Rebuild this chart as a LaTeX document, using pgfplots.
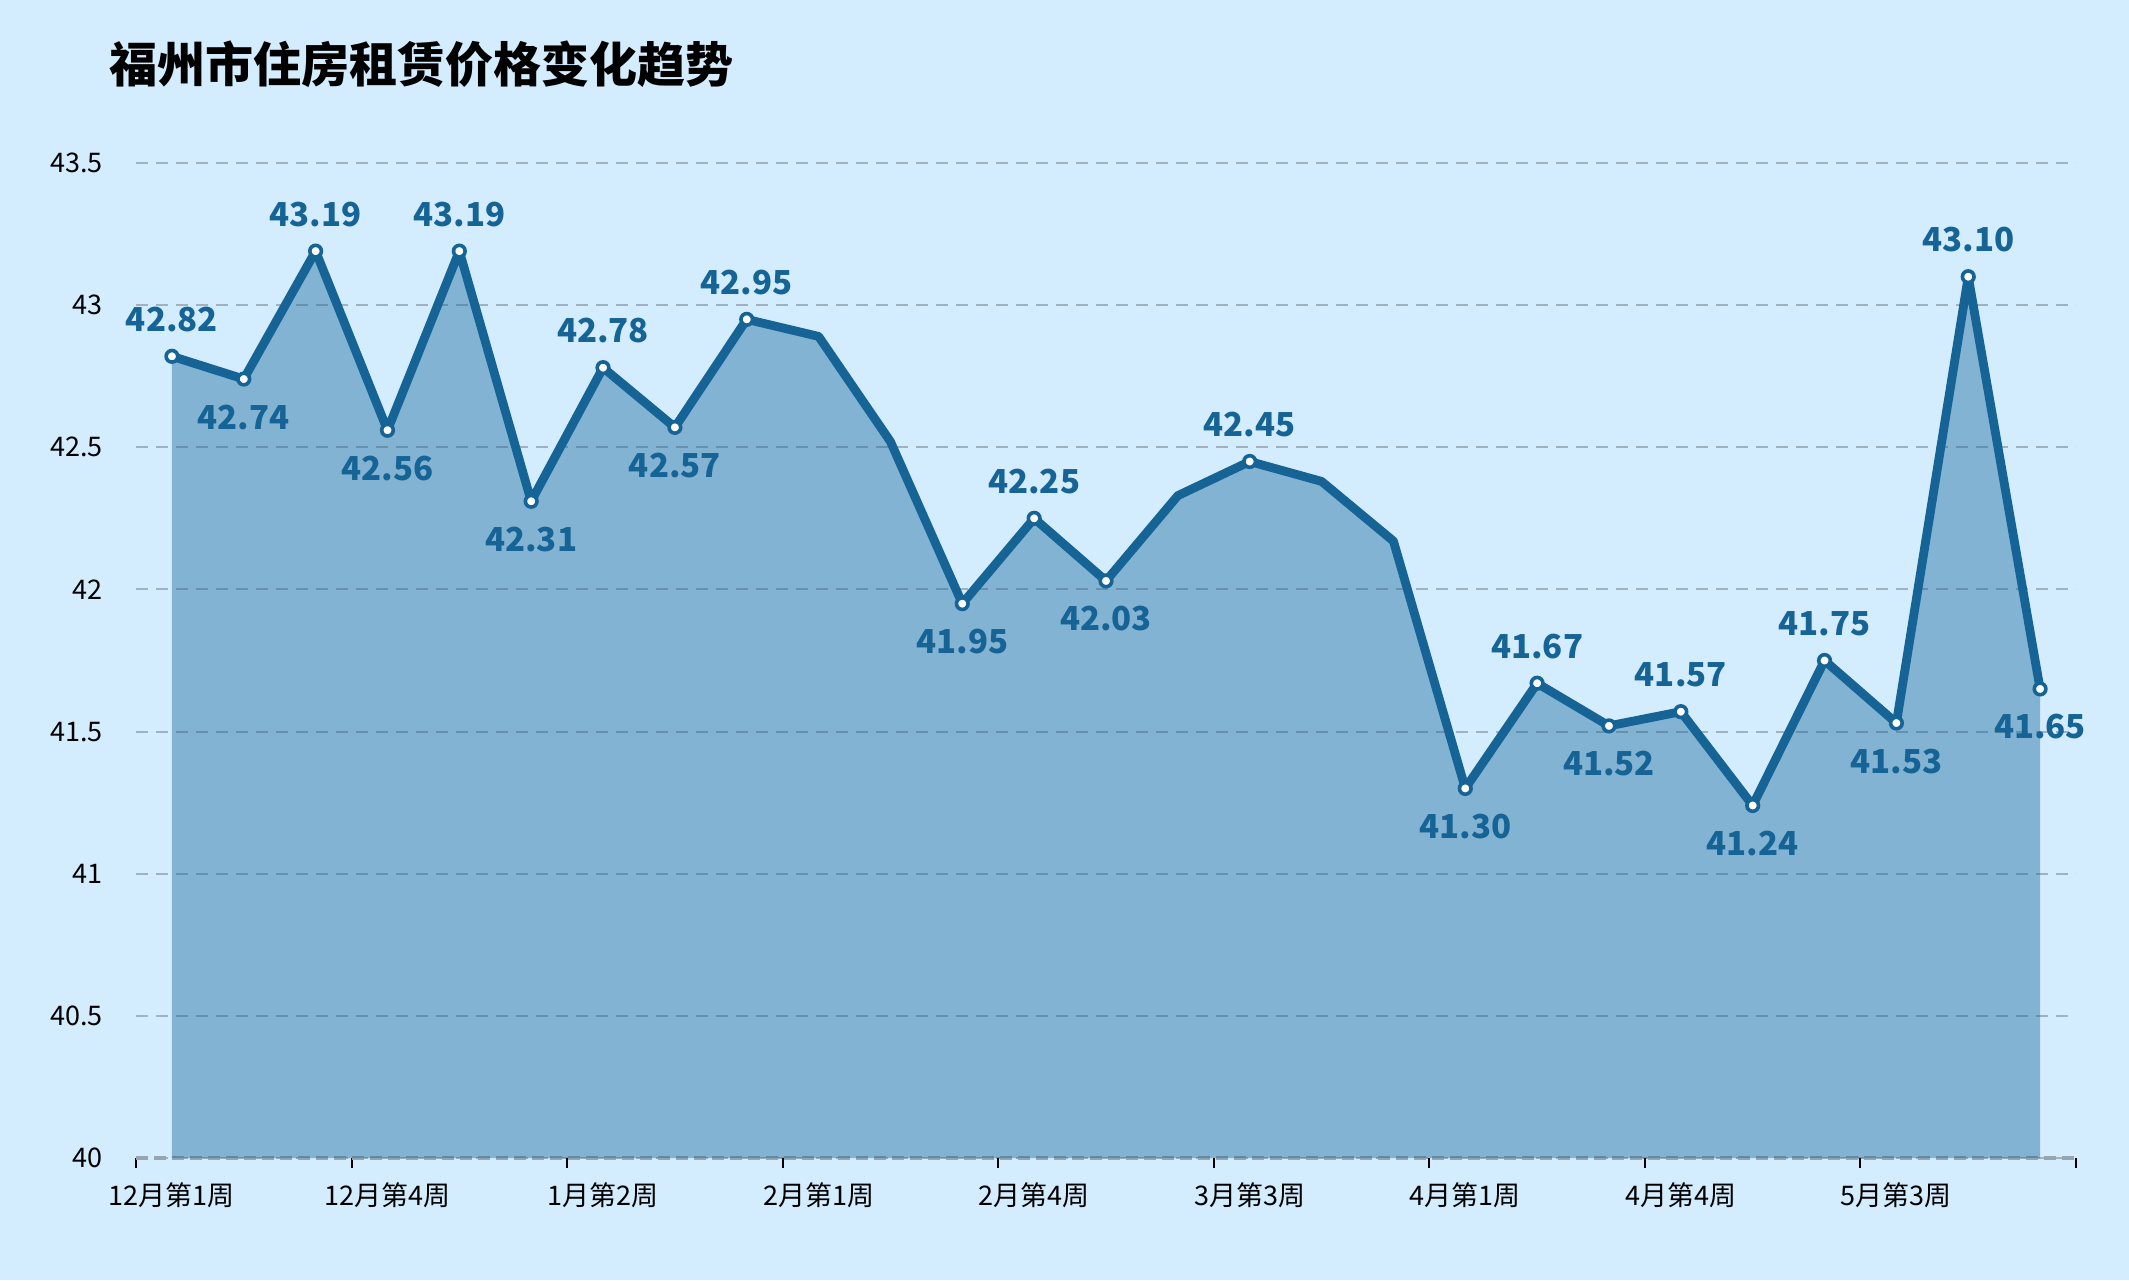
\documentclass[border=0pt]{standalone}
\usepackage{pgfplots}
\pgfplotsset{compat=1.18}
\usepackage{fontspec}
\setmainfont{Noto Sans CJK SC}
\definecolor{bg}{RGB}{211,237,254}
\definecolor{lineblue}{RGB}{22,99,150}
\definecolor{gridc}{RGB}{160,178,190}
\definecolor{gridd}{RGB}{150,165,175}
\begin{document}
\begin{tikzpicture}
\fill[bg] (0,0) rectangle (1064.5pt,640pt);
\useasboundingbox (0,0) rectangle (1064.5pt,640pt);
\node[anchor=west, inner sep=0pt, font=\fontsize{24pt}{28pt}\selectfont\bfseries] at (54.5pt,608pt) {福州市住房租赁价格变化趋势};
\begin{axis}[
  at={(68pt,61pt)}, anchor=south west,
  scale only axis, width=970pt, height=497.5pt,
  xmin=-0.5, xmax=26.5, ymin=40, ymax=43.5,
  /pgf/number format/assume math mode=true,
  ytick={40,40.5,41,41.5,42,42.5,43,43.5},
  yticklabels={40,40.5,41,41.5,42,42.5,43,43.5},
  xtick={-0.5,2.5,5.5,8.5,11.5,14.5,17.5,20.5,23.5,26.5},
  xticklabels={12月第1周,12月第4周,1月第2周,2月第1周,2月第4周,3月第3周,4月第1周,4月第4周,5月第3周,{}},
  xticklabel style={xshift=17.96pt, yshift=-4pt, font=\fontsize{13.5pt}{16pt}\selectfont, text=black},
  yticklabel style={xshift=-8pt, font=\fontsize{13.5pt}{16pt}\selectfont, text=black},
  axis line style={draw=none},
  xtick pos=bottom, ytick pos=left,
  tick align=outside,
  major tick length=5pt,
  xtick style={draw=black, line width=1pt},
  ytick style={draw=none},
  ymajorgrids,
  major grid style={gridc, line width=1pt, dash pattern=on 6pt off 4pt},
  extra y ticks={40},
  extra y tick labels={},
  extra y tick style={major grid style={gridd, line width=2pt, dash pattern=on 6pt off 3pt}},
]
\addplot[draw=none, fill=lineblue, fill opacity=0.42] coordinates {
(0,42.82) (1,42.74) (2,43.19) (3,42.56) (4,43.19) (5,42.31) (6,42.78) (7,42.57) (8,42.95)
(9,42.89) (10,42.52) (11,41.95) (12,42.25) (13,42.03) (14,42.33) (15,42.45) (16,42.38)
(17,42.17) (18,41.30) (19,41.67) (20,41.52) (21,41.57) (22,41.24) (23,41.75) (24,41.53)
(25,43.10) (26,41.65)} \closedcycle;
\addplot[lineblue, line width=4.4pt, line join=round, line cap=round, mark=none] coordinates {
(0,42.82) (1,42.74) (2,43.19) (3,42.56) (4,43.19) (5,42.31) (6,42.78) (7,42.57) (8,42.95)
(9,42.89) (10,42.52) (11,41.95) (12,42.25) (13,42.03) (14,42.33) (15,42.45) (16,42.38)
(17,42.17) (18,41.30) (19,41.67) (20,41.52) (21,41.57) (22,41.24) (23,41.75) (24,41.53)
(25,43.10) (26,41.65)};
% labelled points above
\addplot[only marks, mark=*, mark size=2.9pt, mark options={fill=white, draw=lineblue, line width=1.8pt},
  point meta=y,
  nodes near coords={\pgfmathprintnumber[fixed, fixed zerofill, precision=2]{\pgfplotspointmeta}},
  every node near coord/.style={anchor=center, yshift=18.5pt, text=lineblue, font=\fontsize{16.5pt}{19pt}\selectfont\bfseries}]
coordinates {(0,42.82) (2,43.19) (4,43.19) (6,42.78) (8,42.95) (12,42.25) (15,42.45) (19,41.67) (21,41.57) (23,41.75) (25,43.10)};
% labelled points below
\addplot[only marks, mark=*, mark size=2.9pt, mark options={fill=white, draw=lineblue, line width=1.8pt},
  point meta=y,
  nodes near coords={\pgfmathprintnumber[fixed, fixed zerofill, precision=2]{\pgfplotspointmeta}},
  every node near coord/.style={anchor=center, yshift=-19pt, text=lineblue, font=\fontsize{16.5pt}{19pt}\selectfont\bfseries}]
coordinates {(1,42.74) (3,42.56) (5,42.31) (7,42.57) (11,41.95) (13,42.03) (18,41.30) (20,41.52) (22,41.24) (24,41.53) (26,41.65)};
\end{axis}
\end{tikzpicture}
\end{document}
